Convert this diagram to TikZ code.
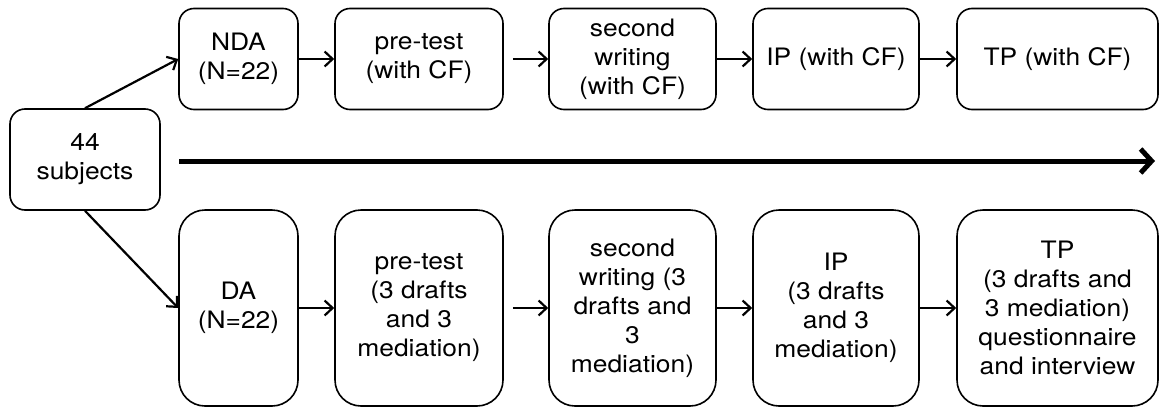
\documentclass[tikz,border=0pt]{standalone}
\usepackage{fontspec}
\setmainfont[FakeStretch=1.1]{TeX Gyre Heros}
\usetikzlibrary{arrows.meta}
\begin{document}
\begin{tikzpicture}[x=1pt,y=-1pt,
 box/.style={draw, line width=1.6pt, rounded corners=15pt, align=center, font=\fontsize{24}{29}\selectfont, inner sep=0pt},
 tall/.style={rounded corners=26pt, minimum height=196pt},
 short/.style={minimum height=101pt},
 conn/.style={-{Straight Barb[length=8pt,width=15pt]}, line width=2.2pt},
 big/.style={-{Straight Barb[length=11pt,width=24pt]}, line width=5pt}]
\useasboundingbox (0,0) rectangle (1161,407);
\node[box, minimum width=150pt, minimum height=101pt] (s) at (85,159.5) {44\\subjects};
% top row
\node[box, short, minimum width=119pt] (nda) at (238.5,59) {NDA\\(N=22)};
\node[box, short, minimum width=168pt] (pre1) at (419,59) {pre-test\\(with CF)};
\node[box, short, minimum width=167pt] (sw1) at (632.5,59) {second\\writing\\(with CF)};
\node[box, short, minimum width=166pt] (ip1) at (836,59) {IP (with CF)};
\node[box, short, minimum width=201pt] (tp1) at (1057.5,59) {TP (with CF)};
% bottom row
\node[box, tall, minimum width=119pt] (da) at (238.5,308) {DA\\(N=22)};
\node[box, tall, minimum width=168pt] (pre2) at (419,308) {pre-test\\(3 drafts\\and 3\\mediation)};
\node[box, tall, minimum width=167pt] (sw2) at (632.5,308) {second\\writing (3\\drafts and\\3\\mediation)};
\node[box, tall, minimum width=166pt] (ip2) at (836,308) {IP\\(3 drafts\\and 3\\mediation)};
\node[box, tall, minimum width=201pt] (tp2) at (1057.5,308) {TP\\(3 drafts and\\3 mediation)\\questionnaire\\and interview};
% connectors
\draw[conn] (s.north) -- (nda.west);
\draw[conn] (s.south) -- (da.west);
\draw[conn] (nda) -- (pre1);
\draw[conn, shorten <=9pt] (pre1) -- (sw1);
\draw[conn] (sw1) -- (ip1);
\draw[conn] (ip1) -- (tp1);
\draw[conn] (da) -- (pre2);
\draw[conn, shorten <=9pt] (pre2) -- (sw2);
\draw[conn] (sw2) -- (ip2);
\draw[conn] (ip2) -- (tp2);
\coordinate (ta) at (179,161);
\coordinate (tb) at (1155,161);
\draw[big] (ta) -- (tb);
\end{tikzpicture}
\end{document}
